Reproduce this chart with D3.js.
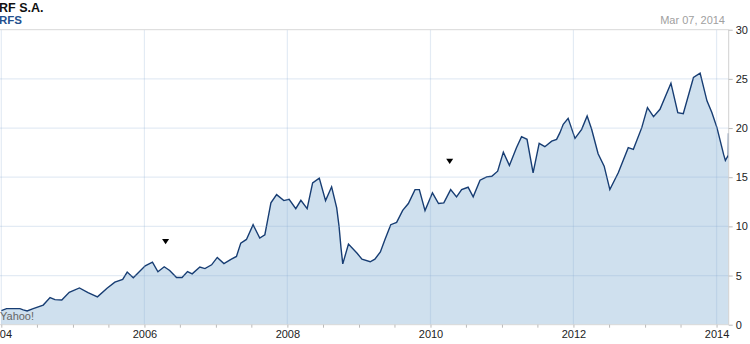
<!DOCTYPE html>
<html><head><meta charset="utf-8">
<script src="https://cdn.jsdelivr.net/npm/d3@7"></script>
<style>body{margin:0;background:#fff}svg{display:block}text{font-family:"Liberation Sans",Arial,sans-serif}</style>
</head><body><svg id="c" width="750" height="344"></svg>
<script>
const dates = ["2004-01-01","2004-01-28","2004-04-05","2004-04-22","2004-05-12","2004-06-12","2004-08-02","2004-09-06","2004-10-01","2004-11-05","2004-12-13","2005-02-03","2005-03-19","2005-05-06","2005-06-24","2005-08-03","2005-09-12","2005-10-05","2005-11-05","2006-01-05","2006-02-11","2006-03-11","2006-04-12","2006-05-10","2006-06-14","2006-07-12","2006-08-09","2006-09-02","2006-10-11","2006-11-06","2006-12-10","2007-01-08","2007-02-11","2007-03-21","2007-04-16","2007-05-08","2007-06-06","2007-07-10","2007-08-13","2007-09-08","2007-09-22","2007-10-09","2007-11-07","2007-12-14","2008-01-10","2008-02-13","2008-03-10","2008-04-11","2008-05-09","2008-06-12","2008-07-14","2008-08-14","2008-09-09","2008-09-21","2008-10-01","2008-10-10","2008-11-08","2008-12-21","2009-01-16","2009-02-27","2009-03-23","2009-04-20","2009-05-13","2009-06-12","2009-07-12","2009-08-12","2009-09-10","2009-10-14","2009-11-05","2009-12-04","2010-01-11","2010-02-11","2010-03-10","2010-04-14","2010-05-14","2010-06-09","2010-07-12","2010-08-07","2010-09-11","2010-10-15","2010-11-10","2010-12-10","2011-01-08","2011-02-08","2011-03-16","2011-04-11","2011-05-09","2011-06-09","2011-07-10","2011-08-08","2011-09-12","2011-10-07","2011-10-24","2011-11-10","2011-12-05","2012-01-09","2012-02-12","2012-03-11","2012-04-03","2012-05-06","2012-06-06","2012-07-05","2012-08-17","2012-10-07","2012-11-02","2012-12-15","2013-01-13","2013-02-13","2013-03-18","2013-05-13","2013-06-17","2013-07-15","2013-09-05","2013-10-09","2013-11-13","2013-12-08","2014-01-03","2014-02-06","2014-02-15","2014-02-27","2014-03-02","2014-03-03"];
const prices = [1.43,1.63,1.63,1.5,1.4,1.63,2.0,2.76,2.55,2.52,3.3,3.74,3.27,2.83,3.71,4.33,4.6,5.35,4.77,5.99,6.37,5.38,5.89,5.51,4.8,4.8,5.41,5.17,5.86,5.71,6.09,6.84,6.22,6.67,6.94,8.3,8.67,10.17,8.82,9.15,10.61,12.39,13.23,12.62,12.76,11.8,12.65,11.8,14.43,14.9,12.62,14.02,11.88,10.0,7.8,6.19,8.2,7.29,6.67,6.4,6.67,7.4,8.64,10.17,10.4,11.63,12.32,13.74,13.74,11.6,13.41,12.32,12.39,13.74,13.0,13.74,13.98,13.0,14.69,15.04,15.1,15.61,17.55,16.19,18.0,19.12,18.85,15.45,18.44,18.1,18.67,18.85,19.53,20.38,20.99,18.95,19.87,21.22,19.87,17.39,16.12,13.74,15.45,18.0,17.83,20.04,22.08,21.16,21.91,24.56,21.57,21.47,25.14,25.58,22.76,21.57,20.04,17.32,16.7,17.14,17.1,19.46];
const eventDates = ["2006-04-19","2010-04-09"];
const eventLevels = [8.47,16.63];
const yTicks = [0,5,10,15,20,25,30];
const xTickYears = ["2004","2006","2008","2010","2012","2014"];
const title = "RF S.A.";
const ticker = "RFS";
const asOf = "Mar 07, 2014";

const parse = d3.timeParse("%Y-%m-%d");
const data = dates.map((d,i)=>({date:parse(d), v:prices[i]}));
const svg = d3.select("#c");
const L=1.3, R=728.7, T=29.7, B=324.7;
const x = d3.scaleTime().domain([parse("2004-01-01"), parse("2014-03-04")]).range([L,R]);
const y = d3.scaleLinear().domain([0,30]).range([B,T]);

const clip = svg.append("defs").append("clipPath").attr("id","cp").append("rect")
  .attr("x",0).attr("y",T).attr("width",R).attr("height",B-T);
const g = svg.append("g").attr("clip-path","url(#cp)");
g.append("path").datum(data)
  .attr("d", d3.area().x(d=>x(d.date)).y0(B).y1(d=>y(d.v)))
  .attr("fill","#cfe0ee");

const grid = svg.append("g");
grid.selectAll("line.h").data(yTicks.filter(t=>t>0&&t<30)).join("line")
  .attr("x1",0).attr("x2",R).attr("y1",d=>y(d)).attr("y2",d=>y(d))
  .attr("stroke","rgba(140,170,210,0.24)").attr("stroke-width",1.2);
grid.selectAll("line.v").data(xTickYears).join("line")
  .attr("x1",d=>x(parse(d+"-01-01"))).attr("x2",d=>x(parse(d+"-01-01")))
  .attr("y1",T).attr("y2",B)
  .attr("stroke","rgba(140,170,210,0.24)").attr("stroke-width",1.2);

g.append("path").datum(data)
  .attr("d", d3.line().x(d=>x(d.date)).y(d=>y(d.v)))
  .attr("fill","none").attr("stroke","#173d73").attr("stroke-width",1.4);

svg.append("line").attr("x1",0).attr("x2",R).attr("y1",T).attr("y2",T).attr("stroke","#d8d8d8");
svg.append("line").attr("x1",0).attr("x2",R).attr("y1",B).attr("y2",B).attr("stroke","#d8d8d8");
svg.append("line").attr("x1",R).attr("x2",R).attr("y1",T).attr("y2",B).attr("stroke","#d0d0d0");

const ya = svg.append("g").attr("transform",`translate(${R},0)`)
  .call(d3.axisRight(y).tickValues(yTicks).tickSize(4).tickPadding(3).tickFormat(d3.format("d")));
ya.select(".domain").remove();
ya.selectAll(".tick line").attr("stroke","#bbb");
ya.selectAll("text").attr("fill","#222").attr("font-size","11px").attr("font-family","Liberation Sans, Arial, sans-serif");

const minor = d3.timeMonth.every(6).range(parse("2004-01-01"), parse("2014-03-05"));
const xa = svg.append("g").attr("transform",`translate(0,${B})`)
  .call(d3.axisBottom(x).tickValues(minor).tickSize(3).tickPadding(3)
    .tickFormat(d=> d.getMonth()===0 && d.getFullYear()%2===0 ? (d.getFullYear()===2004?"04":d3.timeFormat("%Y")(d)) : ""));
xa.select(".domain").remove();
xa.selectAll(".tick line").attr("stroke","#bbb");
xa.selectAll("text").attr("fill","#222").attr("font-size","11px").attr("font-family","Liberation Sans, Arial, sans-serif");
xa.selectAll(".tick").filter(d=>d.getFullYear()===2004).select("text").attr("text-anchor","start").attr("x",-2);

const ev = eventDates.map((d,i)=>({date:parse(d), v:eventLevels[i]}));
svg.selectAll("path.ev").data(ev).join("path")
  .attr("d", d=>{const cx=x(d.date), cy=y(d.v); return `M${cx-3.5},${cy-2.5}L${cx+3.5},${cy-2.5}L${cx},${cy+2.8}Z`;})
  .attr("fill","#000");

svg.append("text").attr("x",-1).attr("y",12).attr("font-size","12.5px").attr("font-weight","bold").attr("fill","#111").text(title);
svg.append("text").attr("x",-1).attr("y",24).attr("font-size","11.5px").attr("font-weight","bold").attr("fill","#23508e").text(ticker);
svg.append("text").attr("x",725).attr("y",24).attr("text-anchor","end").attr("font-size","11px").attr("fill","#a0a0a0").text(asOf);
svg.append("text").attr("x",0).attr("y",320).attr("font-size","11px").attr("fill","#666").text("Yahoo!");
</script></body></html>
